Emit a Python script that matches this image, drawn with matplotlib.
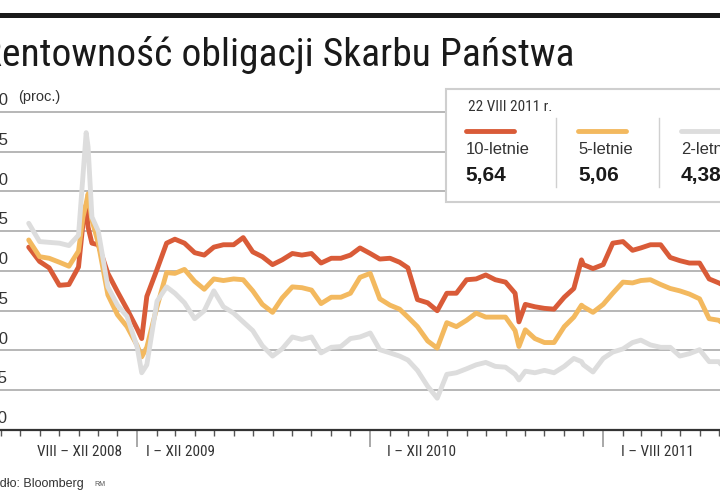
import datetime as dt
import matplotlib
matplotlib.use("Agg")
import matplotlib.pyplot as plt
import matplotlib.dates as mdates
from matplotlib import font_manager as fm
from matplotlib.patches import Rectangle
from matplotlib.lines import Line2D

# Rentownosc obligacji (proc.), odczyt z wykresu
dates = ["2008-07-15", "2008-08-01", "2008-08-16", "2008-09-01", "2008-09-16", "2008-10-01",
         "2008-10-08", "2008-10-13", "2008-10-16", "2008-10-22", "2008-11-01", "2008-11-16",
         "2008-12-01", "2008-12-16",
         "2009-01-01", "2009-01-08", "2009-01-16", "2009-02-01", "2009-02-16", "2009-03-01",
         "2009-03-16", "2009-04-01", "2009-04-16", "2009-05-01", "2009-05-16", "2009-06-01",
         "2009-06-16", "2009-07-01", "2009-07-16", "2009-08-01", "2009-08-16", "2009-09-01",
         "2009-09-16", "2009-10-01", "2009-10-16", "2009-11-01", "2009-11-16", "2009-12-01",
         "2009-12-16",
         "2010-01-01", "2010-01-16", "2010-02-01", "2010-02-16", "2010-03-01", "2010-03-16",
         "2010-04-01", "2010-04-16", "2010-05-01", "2010-05-16", "2010-06-01", "2010-06-16",
         "2010-07-01", "2010-07-16", "2010-08-01", "2010-08-16", "2010-08-22", "2010-09-01",
         "2010-09-16", "2010-10-01", "2010-10-16", "2010-11-01", "2010-11-16", "2010-11-28",
         "2010-12-01", "2010-12-16",
         "2011-01-01", "2011-01-16", "2011-02-01", "2011-02-16", "2011-03-01", "2011-03-16",
         "2011-04-01", "2011-04-16", "2011-05-01", "2011-05-16", "2011-06-01", "2011-06-16",
         "2011-07-01", "2011-08-22"]

y10 = [6.30, 6.12, 6.04, 5.82, 5.83, 6.05, 6.60, 6.83, 6.55, 6.35, 6.33, 5.97, 5.74, 5.52,
       5.27, 5.15, 5.68, 6.02, 6.35, 6.40, 6.35, 6.23, 6.20, 6.30, 6.33, 6.33, 6.42, 6.24,
       6.18, 6.08, 6.14, 6.22, 6.20, 6.22, 6.10, 6.16, 6.16, 6.20, 6.29,
       6.22, 6.15, 6.16, 6.11, 6.04, 5.64, 5.60, 5.50, 5.72, 5.72, 5.89, 5.90, 5.95, 5.89,
       5.86, 5.72, 5.36, 5.58, 5.55, 5.53, 5.52, 5.67, 5.78, 6.14, 6.08, 6.03,
       6.08, 6.35, 6.37, 6.26, 6.29, 6.33, 6.33, 6.17, 6.13, 6.10, 6.10, 5.90, 5.85, 5.64]

y5 = [6.39, 6.18, 6.16, 6.11, 6.06, 6.25, 6.68, 6.85, 6.97, 6.64, 6.35, 5.70, 5.45, 5.30,
      5.06, 4.92, 5.04, 5.55, 5.98, 5.97, 6.02, 5.87, 5.77, 5.90, 5.88, 5.90, 5.89, 5.75,
      5.58, 5.48, 5.66, 5.80, 5.79, 5.76, 5.59, 5.67, 5.67, 5.72, 5.92,
      5.97, 5.65, 5.57, 5.52, 5.42, 5.30, 5.12, 5.03, 5.35, 5.30, 5.38, 5.47, 5.42, 5.42,
      5.42, 5.25, 5.05, 5.26, 5.15, 5.10, 5.10, 5.30, 5.42, 5.57, 5.55, 5.48,
      5.58, 5.72, 5.86, 5.85, 5.88, 5.89, 5.83, 5.78, 5.75, 5.71, 5.65, 5.40, 5.38, 5.06]

y2 = [6.60, 6.37, 6.36, 6.35, 6.32, 6.45, 7.20, 7.74, 7.56, 6.68, 6.50, 5.80, 5.57, 5.43,
      5.04, 4.72, 4.82, 5.62, 5.80, 5.72, 5.60, 5.40, 5.50, 5.75, 5.55, 5.47, 5.36, 5.25,
      5.06, 4.93, 5.02, 5.17, 5.14, 5.17, 4.97, 5.04, 5.05, 5.15, 5.17,
      5.22, 5.01, 4.97, 4.93, 4.88, 4.75, 4.55, 4.40, 4.70, 4.72, 4.77, 4.82, 4.85, 4.80,
      4.79, 4.70, 4.63, 4.74, 4.72, 4.75, 4.72, 4.80, 4.90, 4.86, 4.82, 4.73,
      4.90, 4.98, 5.02, 5.10, 5.13, 5.07, 5.04, 5.04, 4.93, 4.96, 5.01, 4.86, 4.86, 4.38]

series_names = ["10-letnie", "5-letnie", "2-letnie"]
last_values = ["5,64", "5,06", "4,38"]
colors = ["#d95b38", "#f3b95f", "#dddddd"]
yticks = [4.0, 4.5, 5.0, 5.5, 6.0, 6.5, 7.0, 7.5, 8.0]
ytick_labels = ["4,0", "4,5", "5,0", "5,5", "6,0", "6,5", "7,0", "7,5", "8,0"]
period_labels = ["VIII – XII 2008", "I – XII 2009", "I – XII 2010", "I – VIII 2011"]
period_starts = ["2008-08-01", "2009-01-01", "2010-01-01", "2011-01-01"]
title = "Rentowność obligacji Skarbu Państwa"

# narrow face for title / axis labels, whichever is installed
installed = {f.name for f in fm.fontManager.ttflist}
narrow_name = "Liberation Sans"
for nm in ["Roboto Condensed", "Archivo Narrow", "Barlow Condensed", "Asap Condensed",
           "Liberation Sans Narrow"]:
    if nm in installed:
        narrow_name = nm
        break
narrow = [narrow_name, "DejaVu Sans"]
plt.rcParams["font.family"] = ["Liberation Sans", "DejaVu Sans"]

x = [dt.datetime.strptime(d, "%Y-%m-%d") for d in dates]

fig = plt.figure(figsize=(7.2, 5.0), dpi=100)
ax = fig.add_axes([0.0, 0.14, 1.0, 0.644])

for vals, c in zip([y10, y5, y2], colors):
    ax.plot(x, vals, color=c, lw=3.5, solid_joinstyle="round", solid_capstyle="round", zorder=3)

ax.set_xlim(dt.datetime(2008, 5, 31), dt.datetime(2011, 7, 3))
ax.set_ylim(4.0, 8.05)
ax.set_yticks(yticks[1:])
ax.yaxis.grid(True, color="#a3a3a3", lw=1.1)
ax.tick_params(axis="y", left=False, labelleft=False)
for s in ["left", "right", "top"]:
    ax.spines[s].set_visible(False)
ax.spines["bottom"].set_color("#333333")
ax.spines["bottom"].set_linewidth(1.6)

# month ticks, longer grey ticks at year boundaries
ax.xaxis.set_major_locator(mdates.MonthLocator(bymonth=range(2, 13)))
ax.xaxis.set_minor_locator(mdates.YearLocator())
ax.tick_params(axis="x", which="major", direction="out", length=4, width=1,
               color="#555555", labelbottom=False)
ax.tick_params(axis="x", which="minor", direction="out", length=12.5, width=1.2,
               color="#9a9a9a", labelbottom=False)

ytr = ax.get_yaxis_transform()
for v, lab in zip(yticks, ytick_labels):
    ax.text(0.011, v + 0.05, lab, transform=ytr, ha="right", va="bottom",
            fontsize=12, color="#333333", clip_on=False)
ax.text(0.025, 8.05 + 0.05, "(proc.)", transform=ytr, ha="left", va="bottom",
        fontsize=10.5, color="#333333", clip_on=False)

xtr = ax.get_xaxis_transform()
for lab, st, off in zip(period_labels, period_starts, [-2, 6, 12, 13]):
    xd = mdates.date2num(dt.datetime.strptime(st, "%Y-%m-%d"))
    ax.annotate(lab, xy=(xd, 0), xycoords=xtr,
                xytext=(off, -16), textcoords="offset points", ha="left", va="center",
                fontsize=11, color="#333333", family=narrow)

# title + top rule
fig.add_artist(Rectangle((0, 0.965), 1, 0.009, transform=fig.transFigure,
                         color="#1a1a1a", lw=0))
t = fig.text(-0.027, 0.868, title, ha="left", va="baseline",
             fontsize=30, color="#1a1a1a", family=narrow)
# fit title width to the reference (~592 px)
rend = fig.canvas.get_renderer()
w = t.get_window_extent(renderer=rend).width
t.set_fontsize(30 * 592.0 / w)

# legend box
fig.add_artist(Rectangle((0.619, 0.596), 0.5, 0.226, transform=fig.transFigure,
                         facecolor="white", edgecolor="#cfcfcf", lw=1.5, zorder=5))
fig.text(0.65, 0.786, "22 VIII 2011 r.", ha="left", va="center", fontsize=11,
         color="#333333", family=narrow, zorder=6)
col_x = [0.647, 0.803, 0.946]
for cx, name, val, c in zip(col_x, series_names, last_values, colors):
    fig.add_artist(Line2D([cx, cx + 0.067], [0.738, 0.738], transform=fig.transFigure,
                          color=c, lw=3.5, solid_capstyle="round", zorder=6))
    fig.text(cx, 0.700, name, ha="left", va="center", fontsize=12, color="#333333", zorder=6)
    fig.text(cx, 0.648, val, ha="left", va="center", fontsize=15, fontweight="bold",
             color="#1a1a1a", zorder=6)
for sx in [0.772, 0.915]:
    fig.add_artist(Line2D([sx, sx], [0.626, 0.764], transform=fig.transFigure,
                          color="#d0d0d0", lw=1, zorder=6))

# source
fig.text(-0.026, 0.034, "Źródło: Bloomberg", ha="left", va="center", fontsize=9,
         color="#333333")
fig.text(0.131, 0.032, "RM", ha="left", va="center", fontsize=5, color="#555555")

fig.savefig("out.png", dpi=100)
